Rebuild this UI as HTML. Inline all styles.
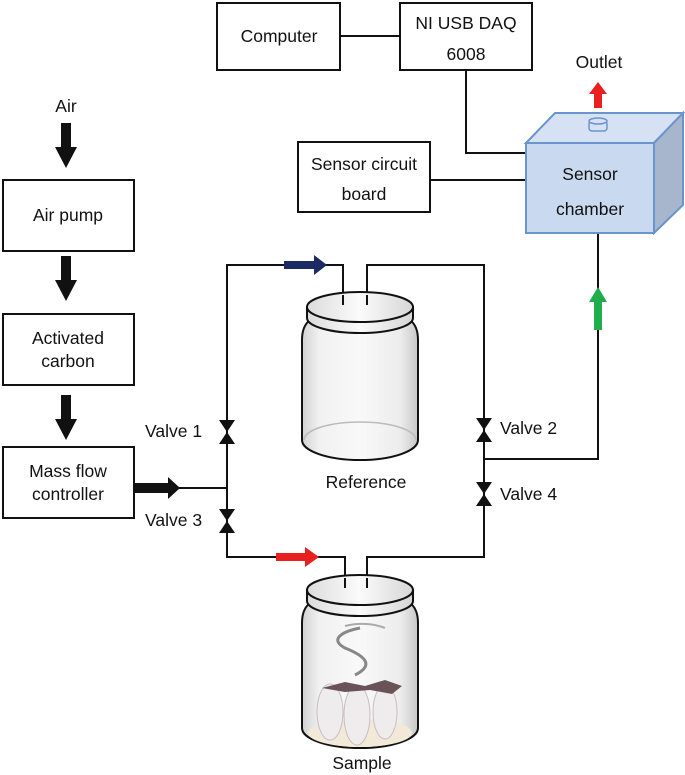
<!DOCTYPE html>
<html><head><meta charset="utf-8"><style>
html,body{margin:0;padding:0;background:#fff;}
svg{display:block;}
text{font-family:"Liberation Sans",Arial,sans-serif;font-size:17.5px;fill:#111;}
</style></head><body>
<svg width="685" height="775" viewBox="0 0 685 775" xmlns="http://www.w3.org/2000/svg">
<defs>
<linearGradient id="glass" x1="0" x2="1">
<stop offset="0" stop-color="#d2d2d2"/><stop offset="0.15" stop-color="#f1f1f1"/><stop offset="0.5" stop-color="#f9f9f9"/><stop offset="0.85" stop-color="#ececec"/><stop offset="1" stop-color="#c8c8c8"/>
</linearGradient>
<linearGradient id="lid" x1="0" x2="1">
<stop offset="0" stop-color="#dcdcdc"/><stop offset="0.5" stop-color="#fbfbfb"/><stop offset="1" stop-color="#d6d6d6"/>
</linearGradient>
</defs>
<g fill="none" stroke="#111" stroke-width="2">
<rect x="217" y="3" width="123" height="67" fill="#fff"/>
<rect x="400" y="3" width="132" height="67" fill="#fff"/>
<line x1="340" y1="36" x2="400" y2="36"/>
<polyline points="466,70 466,153 526,153"/>
<rect x="298" y="142" width="132" height="70" fill="#fff"/>
<line x1="430" y1="180" x2="526" y2="180"/>
<rect x="3" y="180" width="131" height="71" fill="#fff"/>
<rect x="3" y="314" width="131" height="71" fill="#fff"/>
<rect x="3" y="447" width="131" height="71" fill="#fff"/>
<polyline points="343,295 343,265 227,265 227,557 345,557 345,585"/>
<polyline points="367,295 367,265 484,265 484,557 367,557 367,585"/>
<line x1="178" y1="488" x2="227" y2="488"/>
<polyline points="484,459 598,459 598,233"/>
</g>
<g fill="#111">
<polygon points="219,420 235,420 227,432"/><polygon points="219,444 235,444 227,432"/>
<polygon points="219,509 235,509 227,521"/><polygon points="219,533 235,533 227,521"/>
<polygon points="476,418 492,418 484,430"/><polygon points="476,442 492,442 484,430"/>
<polygon points="476,482 492,482 484,494"/><polygon points="476,506 492,506 484,494"/>
<polygon points="61,123 71,123 71,147 77,147 66,168 55,147 61,147"/>
<polygon points="61,256 71,256 71,280 77,280 66,301 55,280 61,280"/>
<polygon points="61,395 71,395 71,419 77,419 66,440 55,419 61,419"/>
<polygon points="134,483 168,483 168,477 180,488 168,499 168,493 134,493"/>
</g>
<polygon points="284,261 314,261 314,255 327,265 314,275 314,269 284,269" fill="#1c2b63"/>
<polygon points="276,553 305,553 305,547 319,557 305,567 305,561 276,561" fill="#e8201f"/>
<polygon points="594,330 594,302 589,302 598,287 607,302 602,302 602,330" fill="#1fae4b"/>
<polygon points="594,108 594,94 589,94 598,82 607,94 602,94 602,108" fill="#e8201f"/>
<g stroke="#6a94cc" stroke-width="2">
<polygon points="526,143 555,113 683,113 654,143" fill="#d6e2f3"/>
<polygon points="654,143 683,113 683,205 654,233" fill="#a7b6cc"/>
<rect x="526" y="143" width="128" height="90" fill="#c9d9f0"/>
</g>
<g stroke="#6a94cc" stroke-width="1.5" fill="#d6e2f3">
<rect x="589" y="121" width="18" height="10" rx="3"/>
<ellipse cx="598" cy="121" rx="9" ry="3"/>
</g>
<!-- reference jar -->
<g stroke="#111" stroke-width="2">
<path d="M310,320 Q302,326 302,340 L302,440 A58,20 0 0 0 418,440 L418,340 Q418,326 410,320 Z" fill="url(#glass)"/>
<path d="M307,307 L307,318 A53,15 0 0 0 413,318 L413,307 Z" fill="url(#lid)"/>
<ellipse cx="360" cy="307" rx="53" ry="15" fill="url(#lid)"/>
</g>
<path d="M304,440 A56,18 0 0 1 416,440" fill="none" stroke="#bbb" stroke-width="1.5"/>
<g stroke="#111" stroke-width="2"><line x1="343" y1="295" x2="343" y2="305"/><line x1="367" y1="295" x2="367" y2="305"/></g>
<!-- sample jar -->
<g stroke="#111" stroke-width="2">
<path d="M310,603 Q302,609 302,623 L302,728 A58,20 0 0 0 418,728 L418,623 Q418,609 410,603 Z" fill="url(#glass)"/>
<path d="M307,590 L307,601 A53,15 0 0 0 413,601 L413,590 Z" fill="url(#lid)"/>
<ellipse cx="360" cy="590" rx="53" ry="15" fill="url(#lid)"/>
</g>
<g stroke="#111" stroke-width="2"><line x1="345" y1="578" x2="345" y2="588"/><line x1="367" y1="578" x2="367" y2="588"/></g>
<path d="M360,628 C340,632 330,640 345,648 C365,656 375,665 355,675" fill="none" stroke="#888" stroke-width="3"/>
<path d="M345,626 C360,622 375,624 385,628" fill="none" stroke="#aaa" stroke-width="2"/>
<ellipse cx="360" cy="733" rx="52" ry="14" fill="#f2e9d8"/>
<g fill="#efecee" stroke="#c9bcc2" stroke-width="1">
<ellipse cx="330" cy="712" rx="13" ry="28"/>
<ellipse cx="357" cy="715" rx="13" ry="30"/>
<ellipse cx="385" cy="712" rx="12" ry="27"/>
</g>
<path d="M322,688 L345,682 L365,686 L385,680 L402,686 L392,694 L370,690 L345,692 Z" fill="#6a5358"/>
<g text-anchor="middle">
<text x="279" y="42">Computer</text>
<text x="466" y="29">NI USB DAQ</text>
<text x="466" y="60">6008</text>
<text x="599" y="68">Outlet</text>
<text x="364" y="170">Sensor circuit</text>
<text x="364" y="200">board</text>
<text x="590" y="180">Sensor</text>
<text x="590" y="215">chamber</text>
<text x="66" y="112">Air</text>
<text x="68" y="221">Air pump</text>
<text x="68" y="344">Activated</text>
<text x="68" y="367">carbon</text>
<text x="68" y="477">Mass flow</text>
<text x="68" y="500">controller</text>
<text x="366" y="488">Reference</text>
<text x="362" y="769">Sample</text>
</g>
<text x="145" y="437">Valve 1</text>
<text x="145" y="526">Valve 3</text>
<text x="500" y="434">Valve 2</text>
<text x="500" y="500">Valve 4</text>
</svg>
</body></html>
